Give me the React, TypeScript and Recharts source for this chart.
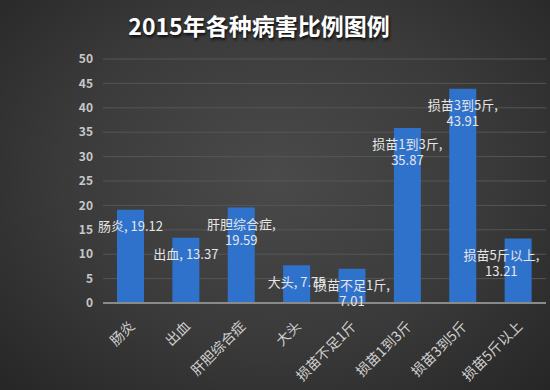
import { Bar, BarChart, CartesianGrid, LabelList, XAxis, YAxis } from "recharts"

const categories = ["肠炎", "出血", "肝胆综合症", "大头", "损苗不足1斤", "损苗1到3斤", "损苗3到5斤", "损苗5斤以上"]
const values = [19.12, 13.37, 19.59, 7.75, 7.01, 35.87, 43.91, 13.21]
const yTicks = [0, 5, 10, 15, 20, 25, 30, 35, 40, 45, 50]

const data = categories.map((name, i) => ({ name, value: values[i] }))

const font = '"Noto Sans CJK SC", "Noto Sans", sans-serif'
const labelSize = 13

// rough text width so a label can be nudged back inside the plot
const textWidth = (s: string) =>
  Array.from(s).reduce((w, ch) => w + (ch.charCodeAt(0) > 255 ? labelSize : labelSize * 0.55), 0)

// Excel-style data label: "category, value", wrapped for the longer names
function BarLabel(props: any) {
  const { x, y, width, index } = props
  const name = categories[index]
  const value = values[index]
  const style = { fontFamily: font, fontSize: labelSize, fill: "#e6e6e6" }
  const oneLine = name.length <= 2
  const first = oneLine ? `${name}, ${value}` : `${name},`
  let cx = x + width / 2
  const half = textWidth(first) / 2
  if (cx + half > 541) cx = 541 - half
  if (oneLine) {
    return (
      <text x={cx} y={y + 16} textAnchor="middle" dominantBaseline="central" style={style}>
        {first}
      </text>
    )
  }
  return (
    <g>
      <text x={cx} y={y + 16} textAnchor="middle" dominantBaseline="central" style={style}>
        {first}
      </text>
      <text x={cx} y={y + 32} textAnchor="middle" dominantBaseline="central" style={style}>
        {value}
      </text>
    </g>
  )
}

function XTick(props: any) {
  const { x, y, payload } = props
  return (
    <g transform={`translate(${x + 5},${y + 16})`}>
      <text
        textAnchor="end"
        transform="rotate(-45)"
        style={{ fontFamily: font, fontSize: 14, fill: "#d0d0d0" }}
      >
        {payload.value}
      </text>
    </g>
  )
}

export default function App() {
  return (
    <div
      style={{
        position: "absolute",
        top: 0,
        left: 0,
        width: 550,
        height: 390,
        background: "radial-gradient(ellipse at 50% 45%, #4a4a4a 0%, #3a3a3a 55%, #262626 100%)",
        fontFamily: font,
      }}
    >
      <div
        style={{
          position: "absolute",
          top: 8,
          left: 0,
          width: 518,
          textAlign: "center",
          color: "#ffffff",
          fontSize: 23,
          fontWeight: 700,
          textShadow: "1px 2px 3px rgba(0,0,0,0.8)",
        }}
      >
        2015年各种病害比例图例
      </div>
      <div style={{ position: "absolute", top: 0, left: 0 }}>
        <BarChart
          width={550}
          height={390}
          data={data}
          margin={{ top: 59, right: 4, bottom: 0, left: 0 }}
        >
          <CartesianGrid vertical={false} stroke="#565656" strokeWidth={1} />
          <XAxis
            dataKey="name"
            interval={0}
            height={87}
            tickLine={false}
            axisLine={{ stroke: "#8a8a8a", strokeWidth: 2 }}
            tick={<XTick />}
          />
          <YAxis
            width={103}
            domain={[0, 50]}
            ticks={yTicks}
            tickLine={false}
            axisLine={false}
            tickMargin={4}
            tick={{ fontFamily: font, fontSize: 12, fill: "#c8c8c8", fontWeight: 600 }}
          />
          <Bar dataKey="value" fill="#2f72cc" barSize={27} isAnimationActive={false}>
            <LabelList dataKey="value" content={<BarLabel />} />
          </Bar>
        </BarChart>
      </div>
    </div>
  )
}
